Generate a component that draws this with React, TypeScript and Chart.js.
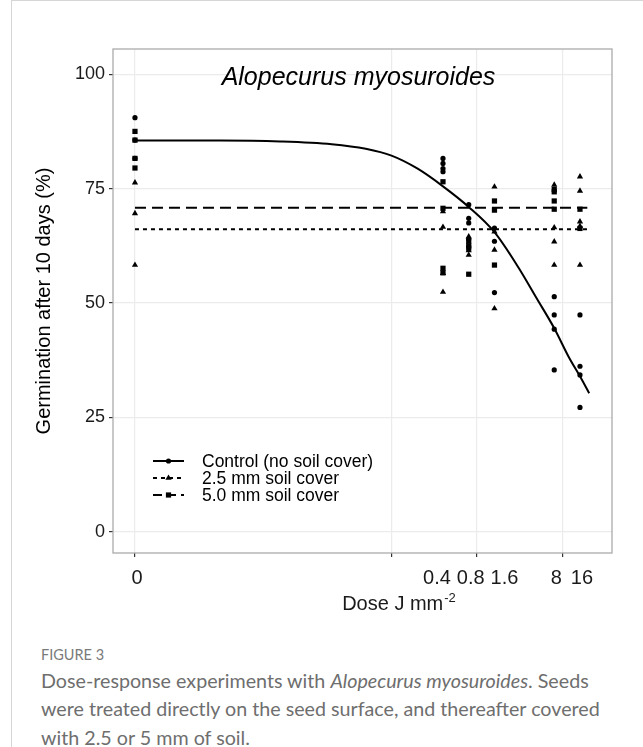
import React, { useEffect, useRef } from "react";
import { Chart, registerables } from "chart.js";

Chart.register(...registerables);

// ---------- data ----------
const doses = [0, 0.4, 0.8, 1.6, 8, 16];
const doseLabels = ["0", "0.4", "0.8", "1.6", "8", "16"];
const zeroDosePosition = 1e-4; // where dose 0 sits on the log axis

// Control (no soil cover) – circles
const controlValues = [
  [90.5, 85.6, 81.6],
  [81.6, 80.5, 79.4, 78.7],
  [71.5, 68.5, 67.5, 64],
  [66.4, 63.5, 52.3],
  [51.4, 47.4, 44.3, 35.4],
  [47.4, 36.2, 34.3, 27.2],
];
// 2.5 mm soil cover – triangles
const soil25Values = [
  [76.3, 69.6, 58.3],
  [70, 66.6, 56.5, 52.4],
  [64.5, 61.5, 60.5],
  [75.4, 65.6, 61.6, 48.8],
  [75.8, 66.5, 63.4, 58.3],
  [77.6, 74.5, 67.8, 66.8, 58.3],
];
// 5.0 mm soil cover – squares
const soil50Values = [
  [87.5, 85.6, 81.6, 79.5],
  [76.5, 70.7, 57.6, 56.6],
  [63.5, 62.5, 62, 56.3],
  [72.3, 70.3, 58.3],
  [74.8, 74.3, 72.3, 70.5],
  [70.5, 66.3],
];

// fitted control curve
const curveDoses = [0, 0.001, 0.005, 0.02, 0.05, 0.1, 0.2, 0.4, 0.8, 1.6, 3, 5, 8, 12, 16, 20.5];
const curveValues = [85.5, 85.5, 85.3, 84.7, 83.7, 82.2, 79.4, 75.5, 71, 65.5, 58, 51, 44.5, 38, 34, 30.3];

// horizontal fits for the soil-covered treatments
const flatLineDoses = [0, 19.5];
const soil25Level = 66.1;
const soil50Level = 70.8;

const yTicks = [0, 25, 50, 75, 100];
const xGridTicks = [0, 0.1, 1, 10];

const legendLabels = ["Control (no soil cover)", "2.5 mm soil cover", "5.0 mm soil cover"];
const titleText = "Alopecurus myosuroides";
const yTitle = "Germination after 10 days (%)";

// ---------- helpers ----------
const pos = (d: number) => (d === 0 ? zeroDosePosition : d);
const FONT = "'Liberation Sans', Arial, Helvetica, sans-serif";
const INK = "#1a1a1a";

function pointsFor(values: number[][]) {
  const out: { x: number; y: number }[] = [];
  values.forEach((reps, i) => reps.forEach((v) => out.push({ x: pos(doses[i]), y: v })));
  return out;
}

function drawMarker(ctx: CanvasRenderingContext2D, style: string, x: number, y: number) {
  ctx.save();
  ctx.fillStyle = "#000";
  ctx.beginPath();
  if (style === "circle") {
    ctx.arc(x, y, 2.6, 0, Math.PI * 2);
  } else if (style === "triangle") {
    const r = 3.6;
    ctx.moveTo(x, y - r);
    ctx.lineTo(x + r * 0.866, y + r * 0.5);
    ctx.lineTo(x - r * 0.866, y + r * 0.5);
    ctx.closePath();
  } else {
    ctx.rect(x - 2.6, y - 2.6, 5.2, 5.2);
  }
  ctx.fill();
  ctx.restore();
}

const decorPlugin = {
  id: "decor",
  afterDraw(chart: any) {
    const { ctx, chartArea } = chart;
    const xs = chart.scales.x;
    const ys = chart.scales.y;
    ctx.save();

    // panel border
    ctx.strokeStyle = "#ababab";
    ctx.lineWidth = 1.3;
    ctx.strokeRect(chartArea.left, chartArea.top, chartArea.right - chartArea.left, chartArea.bottom - chartArea.top);

    // x tick labels, spread apart when they would collide
    ctx.font = `20px ${FONT}`;
    ctx.fillStyle = INK;
    ctx.textAlign = "center";
    ctx.textBaseline = "alphabetic";
    const centers = doses.map((d) => xs.getPixelForValue(pos(d)));
    const widths = doseLabels.map((t) => ctx.measureText(t).width);
    const gap = 6;
    for (let it = 0; it < 200; it++) {
      let moved = false;
      for (let i = 1; i < centers.length; i++) {
        const overlap = centers[i - 1] + widths[i - 1] / 2 + gap - (centers[i] - widths[i] / 2);
        if (overlap > 0.01) {
          centers[i - 1] -= overlap / 2;
          centers[i] += overlap / 2;
          moved = true;
        }
      }
      if (!moved) break;
    }
    const labelBaseline = chartArea.bottom + 31;
    doseLabels.forEach((t, i) => ctx.fillText(t, centers[i] + 2, labelBaseline));

    // x axis title with superscript
    const main = "Dose J mm";
    const sup = "-2";
    ctx.font = `20px ${FONT}`;
    const wMain = ctx.measureText(main).width;
    ctx.font = `13px ${FONT}`;
    const wSup = ctx.measureText(sup).width;
    const titleCenter = (chartArea.left + chartArea.right) / 2 + 36;
    const startX = titleCenter - (wMain + wSup) / 2;
    const titleBaseline = chartArea.bottom + 57;
    ctx.textAlign = "left";
    ctx.font = `20px ${FONT}`;
    ctx.fillText(main, startX, titleBaseline);
    ctx.font = `13px ${FONT}`;
    ctx.fillText(sup, startX + wMain + 1, titleBaseline - 8);

    // in-panel title
    ctx.font = `italic 25px ${FONT}`;
    ctx.textAlign = "center";
    ctx.fillStyle = "#000";
    ctx.fillText(titleText, (chartArea.left + chartArea.right) / 2 - 4, ys.getPixelForValue(100) + 11);

    // legend
    const styles = [
      { dash: [] as number[], marker: "circle" },
      { dash: [4, 4], marker: "triangle" },
      { dash: [9, 5], marker: "square" },
    ];
    const lx0 = chartArea.left + 40;
    const lx1 = chartArea.left + 71;
    const rowsY = [chartArea.bottom - 92, chartArea.bottom - 75, chartArea.bottom - 58];
    ctx.font = `17.5px ${FONT}`;
    ctx.textAlign = "left";
    ctx.textBaseline = "middle";
    styles.forEach((s, i) => {
      const y = rowsY[i];
      ctx.save();
      ctx.strokeStyle = "#000";
      ctx.lineWidth = 2;
      ctx.setLineDash(s.dash);
      ctx.beginPath();
      ctx.moveTo(lx0, y);
      ctx.lineTo(lx1, y);
      ctx.stroke();
      ctx.restore();
      drawMarker(ctx, s.marker, (lx0 + lx1) / 2, y);
      ctx.fillStyle = "#000";
      ctx.fillText(legendLabels[i], chartArea.left + 89, y + 1);
    });

    ctx.restore();
  },
};

export default function App() {
  const ref = useRef<HTMLCanvasElement | null>(null);

  useEffect(() => {
    if (!ref.current) return;
    const chart = new Chart(ref.current, {
      type: "scatter",
      data: {
        datasets: [
          {
            label: "curve",
            data: curveDoses.map((d, i) => ({ x: pos(d), y: curveValues[i] })),
            showLine: true,
            borderColor: "#000",
            borderWidth: 2,
            pointRadius: 0,
            cubicInterpolationMode: "monotone",
            order: 1,
          } as any,
          {
            label: "soil50",
            data: flatLineDoses.map((d) => ({ x: pos(d), y: soil50Level })),
            showLine: true,
            borderColor: "#000",
            borderWidth: 2,
            borderDash: [11, 6],
            pointRadius: 0,
            order: 2,
          } as any,
          {
            label: "soil25",
            data: flatLineDoses.map((d) => ({ x: pos(d), y: soil25Level })),
            showLine: true,
            borderColor: "#000",
            borderWidth: 2,
            borderDash: [4, 4],
            pointRadius: 0,
            order: 3,
          } as any,
          {
            label: legendLabels[0],
            data: pointsFor(controlValues),
            pointStyle: "circle",
            pointRadius: 2.6,
            backgroundColor: "#000",
            borderWidth: 0,
            order: 4,
          },
          {
            label: legendLabels[1],
            data: pointsFor(soil25Values),
            pointStyle: "triangle",
            pointRadius: 3.6,
            backgroundColor: "#000",
            borderWidth: 0,
            order: 5,
          },
          {
            label: legendLabels[2],
            data: pointsFor(soil50Values),
            pointStyle: "rect",
            pointRadius: 3.7,
            backgroundColor: "#000",
            borderWidth: 0,
            order: 6,
          },
        ],
      },
      options: {
        animation: false,
        responsive: false,
        devicePixelRatio: 1,
        layout: { padding: { top: 49, right: 31, bottom: 0, left: 0 } },
        plugins: { legend: { display: false }, tooltip: { enabled: false } },
        scales: {
          x: {
            type: "logarithmic",
            min: Math.pow(10, -4.257),
            max: 37.9,
            position: "bottom",
            border: { display: false },
            grid: { color: "#ebebeb", lineWidth: 1.2, drawTicks: true, tickLength: 4, tickColor: "#333", tickWidth: 1.2 },
            ticks: { display: false },
            afterBuildTicks: (s: any) => {
              s.ticks = xGridTicks.map((d) => ({ value: pos(d) }));
            },
            afterFit: (s: any) => {
              s.height = 72;
              s.paddingLeft = 0;
              s.paddingRight = 0;
            },
          },
          y: {
            type: "linear",
            min: -4.6,
            max: 105.5,
            border: { display: false },
            grid: { color: "#ebebeb", lineWidth: 1.2, drawTicks: true, tickLength: 4, tickColor: "#333", tickWidth: 1.2 },
            ticks: { font: { family: FONT, size: 18 }, color: INK, padding: 4 },
            afterBuildTicks: (s: any) => {
              s.ticks = yTicks.map((v) => ({ value: v }));
            },
            title: {
              display: true,
              text: yTitle,
              font: { family: FONT, size: 20 },
              color: "#000",
              padding: { top: 32, bottom: 0 },
            },
            afterFit: (s: any) => {
              s.width = 113;
              s.paddingTop = 0;
              s.paddingBottom = 0;
            },
          },
        },
      } as any,
      plugins: [decorPlugin],
    });
    return () => chart.destroy();
  }, []);

  return (
    <div style={{ position: "absolute", left: 0, top: 0, width: 643, height: 747, background: "#fff", overflow: "hidden" }}>
      <div
        style={{
          position: "absolute",
          left: 11,
          top: 0,
          width: 640,
          height: 747,
          borderLeft: "1px solid #d6d6d6",
          borderTop: "1px solid #d6d6d6",
        }}
      />
      <canvas ref={ref} width={643} height={625} style={{ position: "absolute", left: 0, top: 0, width: 643, height: 625 }} />
      <div
        style={{
          position: "absolute",
          left: 41,
          top: 647,
          fontFamily: "Lato, 'Open Sans', sans-serif",
          fontSize: 14.5,
          lineHeight: "16.8px",
          color: "#7a7a7a",
          whiteSpace: "nowrap",
        }}
      >
        FIGURE 3
      </div>
      <div
        style={{
          position: "absolute",
          left: 41,
          top: 667,
          fontFamily: "Lato, 'Open Sans', sans-serif",
          fontSize: 19.7,
          lineHeight: "28.3px",
          color: "#6e6e6e",
          whiteSpace: "nowrap",
        }}
      >
        Dose-response experiments with <i>Alopecurus myosuroides</i>. Seeds
        <br />
        were treated directly on the seed surface, and thereafter covered
        <br />
        with 2.5 or 5 mm of soil.
      </div>
    </div>
  );
}
